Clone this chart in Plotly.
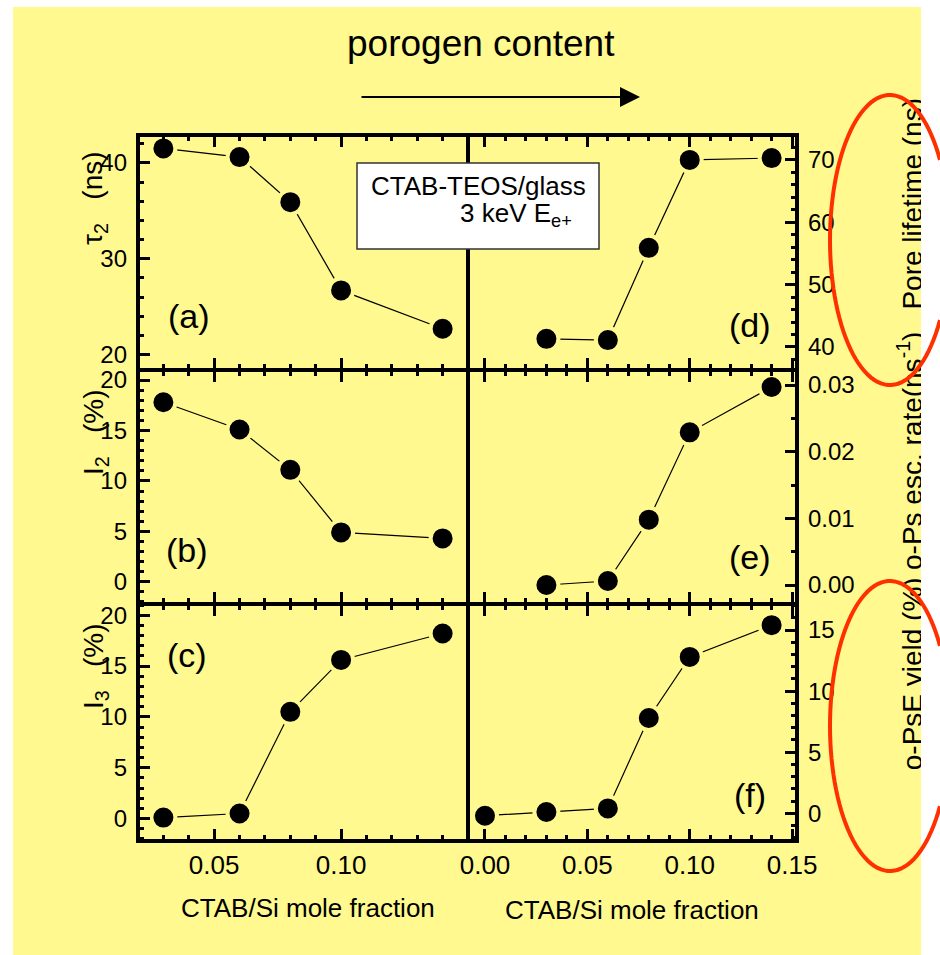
import math
import plotly.graph_objects as go

W, H = 940, 955
FONT = "Arial, Liberation Sans, sans-serif"
BG = "#FFF98F"

# CTAB/Si mole fraction of the measured films
x_left = [0.03, 0.06, 0.08, 0.10, 0.14]
x_right = [0.03, 0.06, 0.08, 0.10, 0.14]
x_right_f = [0.00, 0.03, 0.06, 0.08, 0.10, 0.14]

# left column: lifetime component and intensities
tau2_ns = [41.5, 40.6, 35.9, 26.7, 22.7]
i2_pct = [17.8, 15.1, 11.1, 4.9, 4.3]
i3_pct = [0.1, 0.5, 10.5, 15.6, 18.2]

# right column: pore lifetime, o-Ps escape rate, o-Ps escape yield
pore_lifetime_ns = [41.3, 41.1, 55.9, 70.0, 70.3]
esc_rate = [0.0000, 0.0006, 0.0098, 0.0229, 0.0297]
psE_yield_pct = [-0.2, 0.1, 0.4, 7.8, 12.8, 15.4]

panel_tags = ["(a)", "(b)", "(c)", "(d)", "(e)", "(f)"]
x_ticks_left = [0.05, 0.10]
x_ticks_right = [0.00, 0.05, 0.10, 0.15]
right_titles = ["Pore lifetime (ns)", "o-Ps esc. rate(ns<sup>-1</sup>)", "o-PsE yield (%)"]


def px(p):
    return p / W


def py(p):
    return 1 - p / H


# frame geometry (pixels)
L, M, R = 138, 468, 797
T, S1, S2, B = 135, 370, 604, 841

col_left = [px(L), px(M)]
col_right = [px(M), px(R)]
rows = [[py(S1), py(T)], [py(S2), py(S1)], [py(B), py(S2)]]

fig = go.Figure()

series = [
    ("x", "y", x_left, tau2_ns),
    ("x2", "y2", x_left, i2_pct),
    ("x3", "y3", x_left, i3_pct),
    ("x4", "y4", x_right, pore_lifetime_ns),
    ("x5", "y5", x_right, esc_rate),
    ("x6", "y6", x_right_f, psE_yield_pct),
]
for xa, ya, xs, ys in series:
    fig.add_trace(go.Scatter(
        x=xs, y=ys, xaxis=xa, yaxis=ya, mode="lines+markers",
        line=dict(color="black", width=1.2),
        marker=dict(size=24, color="black", line=dict(color=BG, width=4)),
        cliponaxis=False, showlegend=False, hoverinfo="skip",
    ))

# empty trace that hosts the free axis carrying the right-hand titles
fig.add_trace(go.Scatter(x=[], y=[], xaxis="x", yaxis="y7",
                         showlegend=False, hoverinfo="skip"))

tickfont_x = dict(family=FONT, size=26, color="black")
tickfont_y = dict(family=FONT, size=24, color="black")


def xaxis(domain, rng, tickvals, anchor, labels):
    return dict(
        domain=domain, range=rng, anchor=anchor,
        tickmode="array", tickvals=tickvals, tickformat=".2f",
        ticks="inside", ticklen=12, tickwidth=3, tickcolor="black",
        mirror="ticks", showline=False, showgrid=False, zeroline=False,
        showticklabels=labels, tickfont=tickfont_x, ticklabelstandoff=6,
        minor=dict(ticks="inside", ticklen=6, tickwidth=3, tickcolor="black",
                   dtick=0.01, tick0=0, showgrid=False),
    )


def yaxis(domain, rng, dtick, minor, anchor, side, fmt=None):
    d = dict(
        domain=domain, range=rng, anchor=anchor, side=side,
        tick0=0, dtick=dtick,
        ticks="inside", ticklen=12, tickwidth=3, tickcolor="black",
        showline=False, showgrid=False, zeroline=False,
        tickfont=tickfont_y, ticklabelstandoff=10,
        minor=dict(ticks="inside", ticklen=6, tickwidth=3, tickcolor="black",
                   dtick=minor, tick0=0, showgrid=False),
    )
    if fmt:
        d["tickformat"] = fmt
    return d


xl_rng = [0.02, 0.15]
xr_rng = [-0.0083, 0.1524]

layout_axes = dict(
    xaxis=xaxis(col_left, xl_rng, x_ticks_left, "y", False),
    xaxis2=xaxis(col_left, xl_rng, x_ticks_left, "y2", False),
    xaxis3=xaxis(col_left, xl_rng, x_ticks_left, "y3", True),
    xaxis4=xaxis(col_right, xr_rng, x_ticks_right, "y4", False),
    xaxis5=xaxis(col_right, xr_rng, x_ticks_right, "y5", False),
    xaxis6=xaxis(col_right, xr_rng, x_ticks_right, "y6", True),
    yaxis=yaxis(rows[0], [18.4, 42.9], 10, 2, "x", "left"),
    yaxis2=yaxis(rows[1], [-2.2, 21.0], 5, 1, "x2", "left"),
    yaxis3=yaxis(rows[2], [-2.2, 21.1], 5, 1, "x3", "left"),
    yaxis4=yaxis(rows[0], [36.3, 74.0], 10, 2, "x4", "right"),
    yaxis5=yaxis(rows[1], [-0.00285, 0.03225], 0.01, 0.005, "x5", "right", ".2f"),
    yaxis6=yaxis(rows[2], [-2.27, 17.13], 5, 1, "x6", "right"),
    # free axis in page-pixel units used to set the rotated right-hand titles
    yaxis7=dict(
        domain=[0, 1], range=[H, 0], anchor="free", position=px(893),
        side="right", showline=False, showgrid=False, zeroline=False,
        ticks="", tickmode="array", tickvals=[208, 455, 678],
        ticktext=right_titles, tickangle=-90, ticklabelstandoff=0,
        tickfont=dict(family=FONT, size=28, color="black"),
    ),
)

shapes = []
# yellow page
shapes.append(dict(type="rect", xref="paper", yref="paper", layer="below",
                   x0=px(13), x1=px(921), y0=0, y1=py(7),
                   fillcolor=BG, line=dict(width=0)))


def hline(y, x0, x1):
    return dict(type="line", xref="paper", yref="paper",
                x0=px(x0), x1=px(x1), y0=py(y), y1=py(y),
                line=dict(color="black", width=4))


def vline(x, y0, y1):
    return dict(type="line", xref="paper", yref="paper",
                x0=px(x), x1=px(x), y0=py(y0), y1=py(y1),
                line=dict(color="black", width=4))


for yy in (T, S1, S2, B):
    shapes.append(hline(yy, L - 2, R + 2))
for xx in (L, M, R):
    shapes.append(vline(xx, T - 2, B + 2))

# sample description box
shapes.append(dict(type="rect", xref="paper", yref="paper",
                   x0=px(357), x1=px(599), y0=py(249), y1=py(163),
                   fillcolor="white", line=dict(color="#333333", width=1.5)))

# white margin beyond the page edge trims the right-hand titles
shapes.append(dict(type="rect", xref="paper", yref="paper",
                   x0=px(921), x1=1, y0=0, y1=1,
                   fillcolor="white", line=dict(width=0)))


def ellipse_arc(cx, cy, rx, ry, xmax, n=90):
    """Open path of an ellipse, trimmed where it leaves the page on the right."""
    t0 = math.acos(min(1.0, (xmax - cx) / rx))
    t1 = 2 * math.pi - t0
    pts = []
    for i in range(n + 1):
        t = t0 + (t1 - t0) * i / n
        pts.append((px(cx + rx * math.cos(t)), py(cy - ry * math.sin(t))))
    return "M " + " L ".join(f"{a:.5f},{b:.5f}" for a, b in pts)


# red highlight ellipses around the right-hand titles
for cy in (240, 726):
    shapes.append(dict(type="path", xref="paper", yref="paper",
                       path=ellipse_arc(890, cy, 60, 145, 940),
                       line=dict(color="#FF3000", width=4)))

ann = []


def text(x, y, s, size, angle=0, xanchor="center"):
    ann.append(dict(xref="paper", yref="paper", x=px(x), y=py(y), text=s,
                    showarrow=False, textangle=angle, xanchor=xanchor,
                    yanchor="middle",
                    font=dict(family=FONT, size=size, color="black")))


text(481, 43, "porogen content", 37)
ann.append(dict(xref="paper", yref="paper", x=px(640), y=py(97), text="",
                showarrow=True, ax=-280, ay=0, arrowhead=2, arrowsize=2,
                arrowwidth=2, arrowcolor="black", standoff=0))

tag_pos = [(189, 316), (187, 550), (187, 655), (750, 325), (750, 557), (750, 795)]
for tag, (tx, ty) in zip(panel_tags, tag_pos):
    text(tx, ty, tag, 34)

text(94, 198, "τ<sub>2</sub>   (ns)", 28, -90)
text(95, 432, "I<sub>2</sub>   (%)", 28, -90)
text(95, 666, "I<sub>3</sub>   (%)", 28, -90)

text(308, 908, "CTAB/Si mole fraction", 26)
text(632, 910, "CTAB/Si mole fraction", 26)

text(478, 186, "CTAB-TEOS/glass", 26)
text(516, 214, "3 keV E<sub>e+</sub>", 26)

fig.update_layout(
    width=W, height=H, autosize=False,
    margin=dict(l=0, r=0, t=0, b=0, pad=0, autoexpand=False),
    paper_bgcolor="white", plot_bgcolor="rgba(0,0,0,0)",
    shapes=shapes, annotations=ann, showlegend=False,
    font=dict(family=FONT, color="black"),
    **layout_axes,
)

fig.write_html("out.html", config={"responsive": False})
